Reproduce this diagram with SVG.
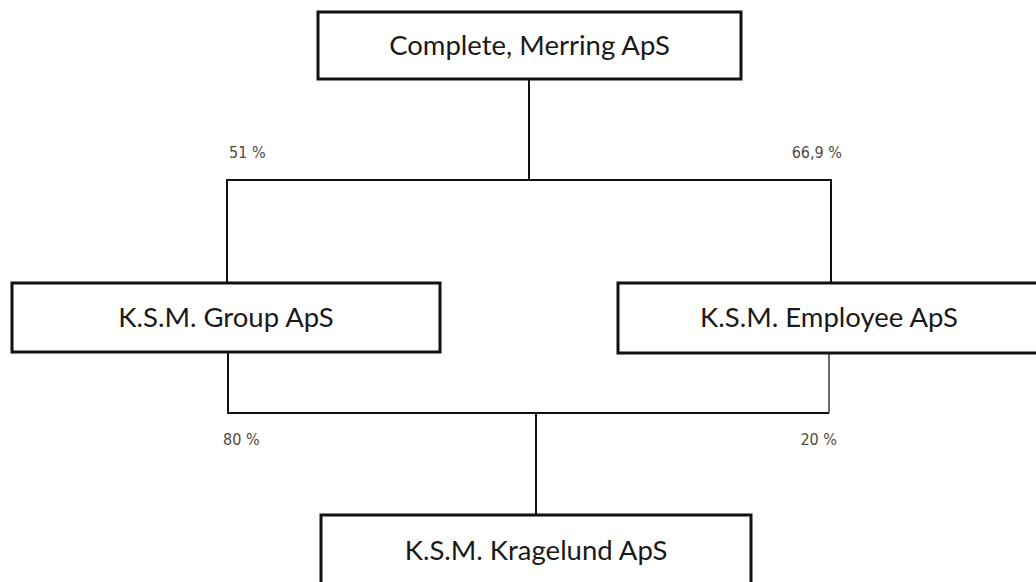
<svg xmlns="http://www.w3.org/2000/svg" width="1036" height="582" viewBox="0 0 1036 582">
  <style>
    .box { fill: #ffffff; stroke: #111111; stroke-width: 3; }
    .lbl { font-family: Lato, "Open Sans", "Liberation Sans", sans-serif; font-size: 27.5px; fill: #1a1a1a; text-anchor: middle; }
    .pct { font-family: "DejaVu Sans Condensed", "DejaVu Sans", "Liberation Sans", sans-serif; font-size: 16px; fill: #504c42; }
    .con { fill: none; stroke: #111111; stroke-width: 2; }
  </style>
  <rect width="1036" height="582" fill="#ffffff"/>
  <g id="connectors">
    <polyline class="con" points="529,79 529,180"/>
    <polyline class="con" points="227,283 227,180 831,180 831,283"/>
    <polyline class="con" points="228,352 228,413 829,413"/>
    <polyline class="con" points="829,353 829,413" style="stroke:#4a3428;stroke-width:1.5"/>
    <polyline class="con" points="536,413 536,515"/>
  </g>
  <g id="node-complete-merring">
    <rect class="box" x="318" y="12" width="423" height="67"/>
    <text class="lbl" x="529.5" y="55">Complete, Merring ApS</text>
  </g>
  <g id="node-ksm-group">
    <rect class="box" x="12" y="283" width="428" height="69"/>
    <text class="lbl" x="226" y="327">K.S.M. Group ApS</text>
  </g>
  <g id="node-ksm-employee">
    <rect class="box" x="618" y="283" width="424" height="70"/>
    <text class="lbl" x="829" y="327">K.S.M. Employee ApS</text>
  </g>
  <g id="node-ksm-kragelund">
    <rect class="box" x="321" y="515" width="430" height="80"/>
    <text class="lbl" x="536" y="560">K.S.M. Kragelund ApS</text>
  </g>
  <g id="labels">
    <text class="pct" x="229" y="158">51 %</text>
    <text class="pct" x="842" y="158" text-anchor="end">66,9 %</text>
    <text class="pct" x="223" y="445">80 %</text>
    <text class="pct" x="837" y="445" text-anchor="end">20 %</text>
  </g>
</svg>
